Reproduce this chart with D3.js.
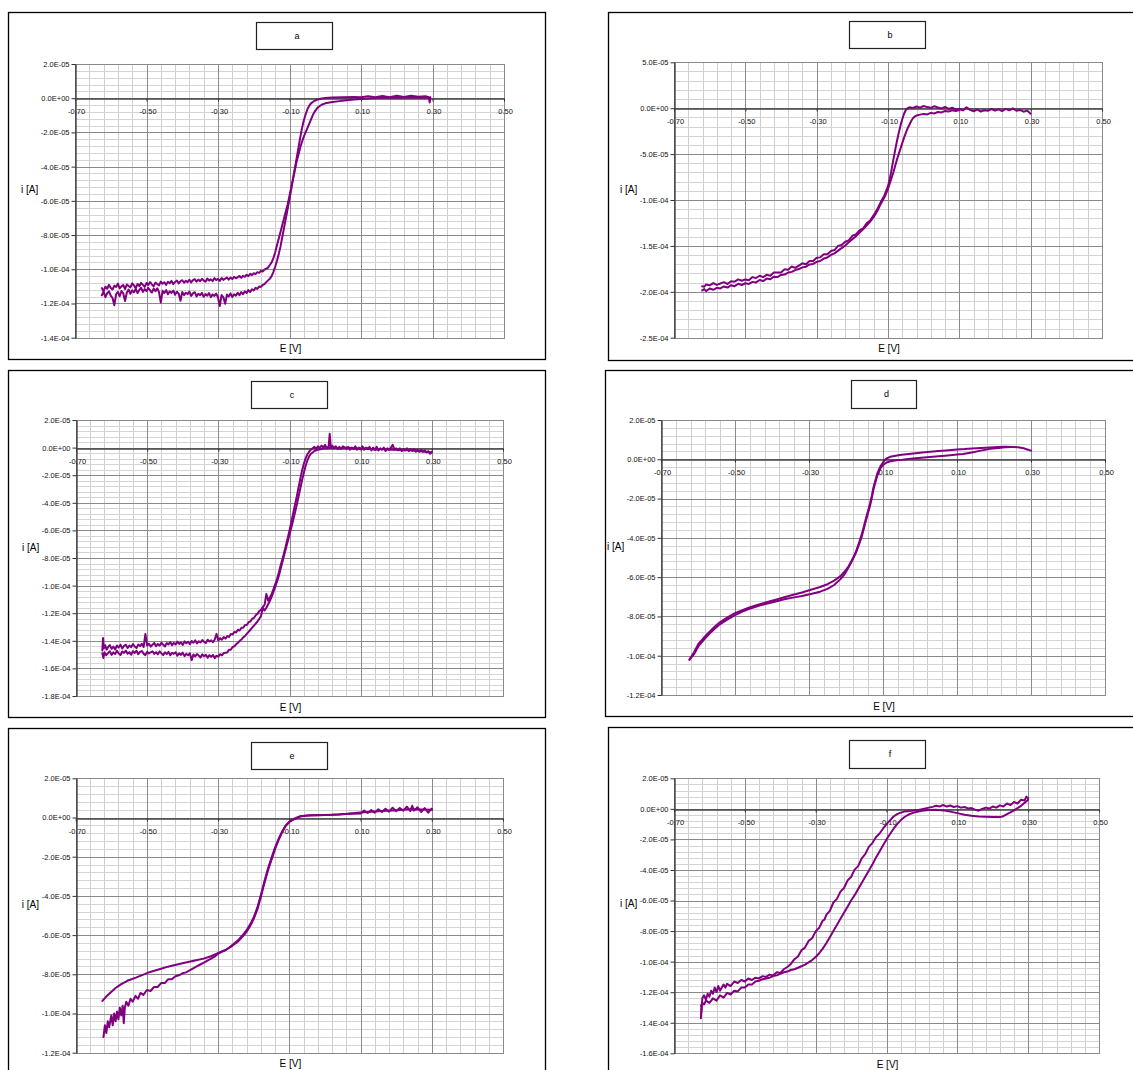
<!DOCTYPE html>
<html><head><meta charset="utf-8">
<script src="https://cdn.jsdelivr.net/npm/d3@7"></script>
<style>body{margin:0;background:#fff} svg{display:block}</style>
</head><body>
<svg id="chart" width="1133" height="1070"></svg>
<script>
// ---------- shared axis data ----------
const xTickValues = [-0.7, -0.5, -0.3, -0.1, 0.1, 0.3, 0.5];
const xTickLabels = ["-0.70", "-0.50", "-0.30", "-0.10", "0.10", "0.30", "0.50"];
const xAxisTitle = "E [V]";
const yAxisTitle = "i [A]";
const panelNames = ["a", "b", "c", "d", "e", "f"];

// y tick values in µA and their labels in A
const yTicksA = [20, 0, -20, -40, -60, -80, -100, -120, -140];
const yLabelsA = ["2.0E-05", "0.0E+00", "-2.0E-05", "-4.0E-05", "-6.0E-05", "-8.0E-05", "-1.0E-04", "-1.2E-04", "-1.4E-04"];
const yTicksB = [50, 0, -50, -100, -150, -200, -250];
const yLabelsB = ["5.0E-05", "0.0E+00", "-5.0E-05", "-1.0E-04", "-1.5E-04", "-2.0E-04", "-2.5E-04"];
const yTicksC = [20, 0, -20, -40, -60, -80, -100, -120, -140, -160, -180];
const yLabelsC = ["2.0E-05", "0.0E+00", "-2.0E-05", "-4.0E-05", "-6.0E-05", "-8.0E-05", "-1.0E-04", "-1.2E-04", "-1.4E-04", "-1.6E-04", "-1.8E-04"];
const yTicksD = [20, 0, -20, -40, -60, -80, -100, -120];
const yLabelsD = ["2.0E-05", "0.0E+00", "-2.0E-05", "-4.0E-05", "-6.0E-05", "-8.0E-05", "-1.0E-04", "-1.2E-04"];
const yTicksE = [20, 0, -20, -40, -60, -80, -100, -120];
const yLabelsE = ["2.0E-05", "0.0E+00", "-2.0E-05", "-4.0E-05", "-6.0E-05", "-8.0E-05", "-1.0E-04", "-1.2E-04"];
const yTicksF = [20, 0, -20, -40, -60, -80, -100, -120, -140, -160];
const yLabelsF = ["2.0E-05", "0.0E+00", "-2.0E-05", "-4.0E-05", "-6.0E-05", "-8.0E-05", "-1.0E-04", "-1.2E-04", "-1.4E-04", "-1.6E-04"];

// ---------- curve data: [E in V, i in µA] ----------
const curveA1 = [[-0.625,-111],[-0.62,-112.8],[-0.615,-110.2],[-0.61,-111.4],[-0.605,-109.1],[-0.6,-110.9],[-0.595,-111.8],[-0.59,-109.6],[-0.585,-110.3],[-0.58,-108.4],[-0.575,-111.2],[-0.57,-110],[-0.565,-109.2],[-0.56,-111.6],[-0.555,-108.9],[-0.55,-109.8],[-0.545,-110.6],[-0.54,-108.2],[-0.535,-109.4],[-0.53,-111],[-0.525,-108.6],[-0.52,-109.9],[-0.515,-107.9],[-0.51,-109.1],[-0.505,-110.3],[-0.5,-108],[-0.495,-109.2],[-0.49,-107.5],[-0.485,-108.8],[-0.48,-110],[-0.475,-107.8],[-0.47,-108.6],[-0.465,-109.4],[-0.46,-107.2],[-0.455,-108.5],[-0.45,-107.6],[-0.445,-109.1],[-0.44,-107.3],[-0.435,-108.2],[-0.43,-106.8],[-0.425,-108.7],[-0.42,-107.4],[-0.415,-106.6],[-0.41,-108.3],[-0.405,-107],[-0.4,-106.4],[-0.395,-107.9],[-0.39,-106.7],[-0.385,-107.5],[-0.38,-106.1],[-0.375,-107.7],[-0.37,-106.3],[-0.365,-105.8],[-0.36,-107.2],[-0.355,-106],[-0.35,-107],[-0.345,-105.6],[-0.34,-106.5],[-0.335,-107.3],[-0.33,-105.4],[-0.325,-106.6],[-0.32,-105.9],[-0.315,-106.9],[-0.31,-105.2],[-0.305,-106.3],[-0.3,-105.6],[-0.295,-106.8],[-0.29,-105.1],[-0.285,-106.2],[-0.28,-105.5],[-0.275,-104.8],[-0.27,-106.1],[-0.265,-104.9],[-0.26,-105.7],[-0.255,-104.4],[-0.25,-105.3],[-0.245,-104.6],[-0.24,-103.9],[-0.235,-105],[-0.23,-103.8],[-0.225,-104.4],[-0.22,-103.2],[-0.215,-104],[-0.21,-102.7],[-0.205,-103.4],[-0.2,-102.3],[-0.195,-102.8],[-0.19,-101.7],[-0.185,-102.1],[-0.18,-100.9],[-0.175,-101.3],[-0.17,-100.2],[-0.165,-99.6],[-0.16,-99],[-0.155,-97.5],[-0.15,-96],[-0.145,-93.5],[-0.14,-90],[-0.135,-86],[-0.13,-82],[-0.125,-78],[-0.12,-74],[-0.115,-70],[-0.11,-66],[-0.105,-62],[-0.1,-57],[-0.095,-52],[-0.09,-47],[-0.085,-42],[-0.08,-37],[-0.075,-33],[-0.07,-29],[-0.065,-25.5],[-0.06,-22.5],[-0.055,-20],[-0.05,-17.5],[-0.045,-15],[-0.04,-12.5],[-0.035,-10],[-0.03,-8],[-0.025,-6.5],[-0.02,-5.2],[-0.01,-3.8],[0,-3],[0.02,-2.2],[0.04,-1.7],[0.06,-1.2],[0.08,-0.8],[0.1,-0.4],[0.12,-0.1],[0.15,0.2],[0.18,0.3],[0.21,0.2],[0.24,0.5],[0.27,0.4],[0.29,0.3]];
const curveA2 = [[-0.625,-115.2],[-0.62,-113.1],[-0.615,-116.3],[-0.61,-114],[-0.605,-112.9],[-0.6,-115.4],[-0.595,-116.8],[-0.59,-121],[-0.585,-114.6],[-0.58,-113.2],[-0.575,-115.8],[-0.57,-112.7],[-0.565,-114.1],[-0.56,-118.5],[-0.555,-113.6],[-0.55,-111.9],[-0.545,-114.4],[-0.54,-112.3],[-0.535,-113.5],[-0.53,-111.4],[-0.525,-113.9],[-0.52,-112.1],[-0.515,-110.8],[-0.51,-113.2],[-0.505,-111.6],[-0.5,-112.7],[-0.495,-110.9],[-0.49,-112.4],[-0.485,-113.6],[-0.48,-111.3],[-0.475,-112.8],[-0.47,-111.1],[-0.465,-113.4],[-0.46,-119.5],[-0.455,-112.6],[-0.45,-113.9],[-0.445,-112.2],[-0.44,-114.6],[-0.435,-112.9],[-0.43,-113.8],[-0.425,-112.4],[-0.42,-114.9],[-0.415,-113.1],[-0.41,-114.2],[-0.405,-118.4],[-0.4,-113.3],[-0.395,-115.1],[-0.39,-113.7],[-0.385,-114.5],[-0.38,-113],[-0.375,-115.6],[-0.37,-114.1],[-0.365,-113.4],[-0.36,-115.9],[-0.355,-114.3],[-0.35,-115.2],[-0.345,-113.8],[-0.34,-116.1],[-0.335,-114.5],[-0.33,-115.4],[-0.325,-113.9],[-0.32,-116.3],[-0.315,-114.7],[-0.31,-115.6],[-0.305,-114.2],[-0.3,-116.5],[-0.295,-121.5],[-0.29,-115.1],[-0.285,-116.4],[-0.28,-120.2],[-0.275,-114.8],[-0.27,-115.9],[-0.265,-114.1],[-0.26,-116.2],[-0.255,-114.6],[-0.25,-115.4],[-0.245,-113.7],[-0.24,-115.2],[-0.235,-113.3],[-0.23,-114.6],[-0.225,-112.9],[-0.22,-113.9],[-0.215,-112.2],[-0.21,-113.3],[-0.205,-111.7],[-0.2,-112.4],[-0.195,-110.8],[-0.19,-111.5],[-0.185,-110.1],[-0.18,-110.3],[-0.175,-109.2],[-0.17,-108.7],[-0.165,-107.5],[-0.16,-106.5],[-0.155,-105.5],[-0.15,-104],[-0.145,-101.5],[-0.14,-98.5],[-0.135,-95],[-0.13,-91],[-0.125,-86.5],[-0.12,-81],[-0.115,-75.5],[-0.11,-70],[-0.105,-64.5],[-0.1,-59],[-0.095,-53],[-0.09,-47],[-0.085,-41],[-0.08,-35],[-0.075,-29],[-0.07,-23],[-0.065,-17.5],[-0.06,-13],[-0.055,-9.5],[-0.05,-6.5],[-0.045,-4.5],[-0.04,-3],[-0.03,-1.5],[-0.02,-0.7],[-0.01,-0.2],[0,0.1],[0.02,0.4],[0.05,0.6],[0.08,0.7],[0.1,0.5],[0.12,1.2],[0.14,0.5],[0.16,1.3],[0.18,0.6],[0.2,1.4],[0.22,0.7],[0.24,1.5],[0.26,0.8],[0.28,1.2],[0.29,0.6],[0.292,-2.5],[0.294,0.5]];

const curveB1 = [[-0.621,-194],[-0.615,-194.5],[-0.61,-192],[-0.6,-193],[-0.59,-190.5],[-0.58,-192.5],[-0.57,-191],[-0.56,-189.5],[-0.55,-191.5],[-0.54,-188.5],[-0.53,-189],[-0.52,-186.5],[-0.51,-188],[-0.5,-186.5],[-0.49,-187.5],[-0.48,-184],[-0.47,-185],[-0.46,-182.5],[-0.45,-184],[-0.44,-181.5],[-0.43,-182.5],[-0.42,-179],[-0.41,-179],[-0.4,-179],[-0.39,-175.5],[-0.38,-176],[-0.37,-172.5],[-0.36,-174],[-0.35,-171.5],[-0.34,-169],[-0.33,-170],[-0.32,-166.5],[-0.31,-166.5],[-0.3,-163],[-0.29,-162.5],[-0.28,-159],[-0.27,-159],[-0.26,-155.5],[-0.25,-154.5],[-0.24,-150],[-0.23,-149],[-0.22,-145.5],[-0.21,-144],[-0.2,-139],[-0.19,-137.5],[-0.18,-133],[-0.17,-131],[-0.16,-125.5],[-0.15,-122.5],[-0.14,-116.5],[-0.13,-110],[-0.12,-102],[-0.11,-95],[-0.1,-85],[-0.095,-77],[-0.09,-67],[-0.085,-56],[-0.08,-46],[-0.075,-36],[-0.07,-27],[-0.065,-19],[-0.06,-12],[-0.055,-6],[-0.05,-2],[-0.045,0],[-0.04,1],[-0.03,0.2],[-0.02,1.8],[-0.01,0.6],[0,2.4],[0.01,1.2],[0.02,0.4],[0.03,2.1],[0.04,0.8],[0.05,-0.3],[0.06,1.4],[0.07,-0.8],[0.08,0.5],[0.09,-1.6],[0.1,-0.6],[0.11,-2.4],[0.12,0.9],[0.13,-1.8],[0.14,-3.3],[0.15,-1.4],[0.16,-3.6],[0.17,-2.2],[0.18,-2.9],[0.19,-0.9],[0.2,-2.7],[0.21,-1.3],[0.22,-3.1],[0.23,-0.7],[0.24,-2.3],[0.25,-0.2],[0.26,-2.8],[0.27,-1.9],[0.28,-3.8],[0.29,-2.6],[0.3,-6]];
const curveB2 = [[-0.621,-198.5],[-0.615,-197],[-0.61,-199.2],[-0.6,-196.4],[-0.59,-197.8],[-0.58,-195.6],[-0.57,-196.3],[-0.56,-194.2],[-0.55,-195.4],[-0.54,-192.8],[-0.53,-193.9],[-0.52,-191.3],[-0.51,-192.6],[-0.5,-190.7],[-0.49,-191.4],[-0.48,-189.2],[-0.47,-189.8],[-0.46,-187.1],[-0.45,-188.3],[-0.44,-185.6],[-0.43,-186.4],[-0.42,-183.5],[-0.41,-183.9],[-0.4,-181.6],[-0.39,-181.2],[-0.38,-179],[-0.37,-178.3],[-0.36,-176.4],[-0.35,-175.2],[-0.34,-173.4],[-0.33,-172.6],[-0.32,-170.2],[-0.31,-169.6],[-0.3,-167.4],[-0.29,-166.5],[-0.28,-163.8],[-0.27,-162.6],[-0.26,-159.8],[-0.25,-158.1],[-0.24,-155.2],[-0.23,-152.4],[-0.22,-149.5],[-0.21,-146],[-0.2,-142.8],[-0.19,-139.4],[-0.18,-135.6],[-0.17,-132],[-0.16,-127.8],[-0.15,-123.6],[-0.14,-118.5],[-0.13,-112],[-0.12,-104],[-0.11,-97],[-0.1,-88],[-0.09,-76],[-0.085,-70],[-0.08,-63],[-0.075,-56],[-0.07,-50],[-0.065,-44],[-0.06,-38],[-0.055,-32],[-0.05,-27],[-0.045,-22],[-0.04,-18],[-0.035,-14],[-0.03,-11],[-0.025,-9],[-0.02,-8],[-0.01,-7],[0,-6.2],[0.01,-6.8],[0.02,-5.1],[0.03,-5.7],[0.04,-4.2],[0.05,-4.6],[0.06,-3.1],[0.07,-3.7],[0.08,-2.2],[0.09,-3],[0.1,-2]];

const curveC1 = [[-0.626,-147],[-0.624,-138],[-0.622,-145.5],[-0.618,-143.2],[-0.614,-146.4],[-0.61,-144.6],[-0.605,-143.1],[-0.6,-145.8],[-0.595,-144.2],[-0.59,-146.3],[-0.585,-143.4],[-0.58,-144.9],[-0.575,-142.8],[-0.57,-145.6],[-0.565,-143.7],[-0.56,-142.9],[-0.555,-145.2],[-0.55,-143.5],[-0.545,-144.6],[-0.54,-142.4],[-0.535,-144.1],[-0.53,-145.3],[-0.525,-142.7],[-0.52,-143.8],[-0.515,-142.2],[-0.51,-144.5],[-0.505,-135],[-0.5,-143.4],[-0.495,-142.1],[-0.49,-144.2],[-0.485,-142.8],[-0.48,-141.6],[-0.475,-143.9],[-0.47,-142.3],[-0.465,-143.5],[-0.46,-141.4],[-0.455,-142.9],[-0.45,-144.1],[-0.445,-141.7],[-0.44,-142.6],[-0.435,-140.9],[-0.43,-143.2],[-0.425,-141.5],[-0.42,-142.7],[-0.415,-140.6],[-0.41,-142.3],[-0.405,-141.1],[-0.4,-143],[-0.395,-140.4],[-0.39,-141.8],[-0.385,-140.7],[-0.38,-142.5],[-0.375,-140.1],[-0.37,-141.4],[-0.365,-139.6],[-0.36,-141.9],[-0.355,-140.3],[-0.35,-141.2],[-0.345,-139.4],[-0.34,-140.8],[-0.335,-141.6],[-0.33,-139.2],[-0.325,-140.5],[-0.32,-139.7],[-0.315,-141],[-0.31,-139],[-0.305,-135],[-0.3,-139.8],[-0.295,-138.1],[-0.29,-139.2],[-0.285,-137.3],[-0.28,-138.4],[-0.275,-136.6],[-0.27,-137.2],[-0.265,-135],[-0.26,-135.5],[-0.255,-133.5],[-0.25,-134],[-0.245,-132],[-0.24,-132.5],[-0.235,-130.5],[-0.23,-130.5],[-0.225,-128.5],[-0.22,-128.5],[-0.215,-126.5],[-0.21,-126],[-0.205,-124],[-0.2,-123.5],[-0.195,-121.5],[-0.19,-120.5],[-0.185,-118.5],[-0.18,-117.5],[-0.175,-115.5],[-0.17,-114],[-0.165,-106],[-0.16,-111],[-0.155,-108.5],[-0.15,-106],[-0.145,-102.5],[-0.14,-99],[-0.135,-95],[-0.13,-90.5],[-0.125,-85.5],[-0.12,-81],[-0.115,-76],[-0.11,-71],[-0.105,-65.5],[-0.1,-60],[-0.095,-54],[-0.09,-48],[-0.085,-42],[-0.08,-36],[-0.075,-29.5],[-0.07,-23],[-0.065,-17],[-0.06,-12],[-0.055,-8],[-0.05,-5],[-0.045,-3],[-0.04,-1.5],[-0.035,-0.5],[-0.03,0.5],[-0.025,-1],[-0.02,1],[-0.015,-0.5],[-0.01,1.5],[-0.005,0],[0,2],[0.005,-0.5],[0.01,1],[0.013,10],[0.016,0],[0.02,1.5],[0.025,-0.5],[0.03,1],[0.035,-1],[0.04,0.5],[0.045,-1],[0.05,1],[0.06,-1],[0.065,0.5],[0.07,-1.5],[0.075,0],[0.08,-1],[0.085,1],[0.09,-1.5],[0.095,0],[0.1,-1],[0.105,1],[0.11,-1.5],[0.115,0],[0.12,-1],[0.125,0.5],[0.13,-2],[0.135,0],[0.14,-1.5],[0.145,0.5],[0.15,-2],[0.155,-0.5],[0.16,-1.5],[0.165,0],[0.17,-2.5],[0.175,-0.5],[0.18,-1.5],[0.185,0],[0.19,2],[0.195,-1.5],[0.2,-0.5],[0.205,-2],[0.21,-0.5],[0.215,-2.5],[0.22,-1],[0.225,-2],[0.23,-0.5],[0.235,-2.5],[0.24,-1],[0.245,-2.5],[0.25,-1],[0.255,-3],[0.26,-1.5],[0.265,-3],[0.27,-1.5],[0.275,-3],[0.28,-2],[0.285,-3.5],[0.29,-2.5],[0.295,-4.5],[0.3,-3]];
const curveC2 = [[-0.626,-149],[-0.623,-152.5],[-0.62,-148.3],[-0.615,-150.4],[-0.61,-148.9],[-0.605,-147.6],[-0.6,-150.2],[-0.595,-148.4],[-0.59,-149.6],[-0.585,-147.3],[-0.58,-149.1],[-0.575,-150.3],[-0.57,-147.8],[-0.565,-148.7],[-0.56,-147.1],[-0.555,-149.4],[-0.55,-148.2],[-0.545,-150.1],[-0.54,-147.5],[-0.535,-148.8],[-0.53,-147.2],[-0.525,-149.7],[-0.52,-148.1],[-0.515,-147.4],[-0.51,-149.3],[-0.505,-150.4],[-0.5,-147.9],[-0.495,-149.2],[-0.49,-148.3],[-0.485,-147.6],[-0.48,-149.5],[-0.475,-148.2],[-0.47,-149.8],[-0.465,-147.7],[-0.46,-149.1],[-0.455,-150.3],[-0.45,-148.4],[-0.445,-149.6],[-0.44,-148],[-0.435,-150.5],[-0.43,-148.7],[-0.425,-149.4],[-0.42,-148.3],[-0.415,-150.8],[-0.41,-149.1],[-0.405,-150.2],[-0.4,-148.6],[-0.395,-151.1],[-0.39,-149.4],[-0.385,-150.5],[-0.38,-149],[-0.375,-154],[-0.37,-149.9],[-0.365,-151.3],[-0.36,-149.6],[-0.355,-150.7],[-0.35,-152.1],[-0.345,-149.8],[-0.34,-151.2],[-0.335,-150.1],[-0.33,-152.3],[-0.325,-150.4],[-0.32,-151.6],[-0.315,-150.2],[-0.31,-152.6],[-0.305,-150.8],[-0.3,-151.4],[-0.295,-149.7],[-0.29,-150.5],[-0.285,-148.9],[-0.28,-148.6],[-0.275,-148.5],[-0.27,-146.5],[-0.265,-146.5],[-0.26,-144.5],[-0.255,-144],[-0.25,-142.5],[-0.245,-141.5],[-0.24,-140],[-0.235,-139],[-0.23,-137.5],[-0.225,-136.5],[-0.22,-135],[-0.215,-133.5],[-0.21,-132],[-0.205,-130.5],[-0.2,-129],[-0.195,-127.5],[-0.19,-126],[-0.185,-124],[-0.18,-122],[-0.175,-116],[-0.17,-118],[-0.165,-116],[-0.16,-113.5],[-0.155,-111],[-0.15,-108],[-0.145,-104.5],[-0.14,-101],[-0.135,-97],[-0.13,-93],[-0.125,-88],[-0.12,-83],[-0.115,-78],[-0.11,-73],[-0.105,-68],[-0.1,-63],[-0.095,-58],[-0.09,-53],[-0.085,-47.5],[-0.08,-42],[-0.075,-36],[-0.07,-30],[-0.065,-24],[-0.06,-18.5],[-0.055,-13.5],[-0.05,-9.5],[-0.045,-6.5],[-0.04,-4.5],[-0.035,-3.5],[-0.03,-2.5],[-0.02,-1.5],[-0.01,-1],[0,-0.5],[0.02,0],[0.04,-0.5],[0.06,0],[0.08,-0.5],[0.1,-1],[0.12,-0.5],[0.14,-1.5],[0.16,-1],[0.18,-1.5],[0.2,-1.5],[0.22,-2],[0.24,-2],[0.26,-2.5],[0.28,-3],[0.3,-3.5]];

const curveD1 = [[-0.623,-102],[-0.61,-98],[-0.599,-94],[-0.585,-91],[-0.57,-88],[-0.555,-85.3],[-0.541,-83],[-0.52,-80.5],[-0.5,-78.3],[-0.48,-76.8],[-0.463,-75.6],[-0.44,-74.2],[-0.415,-72.8],[-0.39,-71.5],[-0.367,-70.2],[-0.34,-68.8],[-0.319,-67.8],[-0.295,-66.4],[-0.27,-65],[-0.25,-63.6],[-0.232,-61.8],[-0.215,-59.5],[-0.203,-57],[-0.193,-54.5],[-0.183,-51],[-0.173,-47],[-0.164,-42],[-0.157,-38],[-0.15,-33],[-0.143,-28],[-0.135,-22.5],[-0.13,-18.5],[-0.126,-14.5],[-0.121,-11],[-0.116,-7.7],[-0.111,-5.3],[-0.106,-3.3],[-0.1,-1.6],[-0.095,-0.3],[-0.09,0.5],[-0.08,1.3],[-0.07,1.7],[-0.05,2.3],[-0.03,2.7],[0,3.3],[0.02,3.7],[0.05,4.2],[0.07,4.5],[0.1,5],[0.12,5.2],[0.14,5.5],[0.165,5.7],[0.19,6],[0.21,6.2],[0.23,6.4],[0.25,6.3],[0.265,6.1],[0.28,5.6],[0.29,5],[0.3,4.4]];
const curveD2 = [[-0.623,-102],[-0.61,-99],[-0.599,-95.2],[-0.585,-92],[-0.57,-89],[-0.555,-86.3],[-0.541,-84],[-0.52,-81.5],[-0.5,-79.3],[-0.48,-77.5],[-0.463,-76.3],[-0.44,-74.8],[-0.415,-73.5],[-0.39,-72.4],[-0.367,-71.3],[-0.34,-70.3],[-0.319,-69.6],[-0.295,-68.6],[-0.27,-67.4],[-0.25,-66],[-0.232,-64],[-0.215,-61],[-0.203,-58.3],[-0.193,-55],[-0.183,-51.5],[-0.173,-47.5],[-0.164,-43],[-0.157,-39],[-0.15,-34],[-0.143,-29],[-0.135,-23.7],[-0.13,-19.5],[-0.126,-15.5],[-0.121,-12],[-0.116,-8.6],[-0.111,-6.3],[-0.106,-4.4],[-0.1,-3],[-0.095,-2.2],[-0.09,-1.6],[-0.08,-1],[-0.06,-0.4],[-0.048,-0.2],[-0.02,0.4],[0.019,1],[0.05,1.5],[0.068,1.8],[0.1,2.4],[0.116,2.7],[0.14,3.5],[0.164,4.4],[0.19,5.3],[0.212,5.8],[0.23,6.1],[0.25,6.2]];

const curveE1 = [[-0.625,-93.6],[-0.615,-91.5],[-0.602,-89.3],[-0.588,-87],[-0.572,-85],[-0.555,-83.3],[-0.531,-81.7],[-0.51,-80.2],[-0.491,-78.8],[-0.465,-77.4],[-0.441,-76.1],[-0.415,-75],[-0.391,-74],[-0.365,-73],[-0.341,-72],[-0.32,-70.8],[-0.301,-69.2],[-0.28,-67.6],[-0.261,-65.6],[-0.245,-63.4],[-0.23,-60.5],[-0.22,-58.3],[-0.21,-55.4],[-0.2,-51.7],[-0.19,-47],[-0.18,-40.5],[-0.17,-33.4],[-0.16,-27],[-0.15,-21.5],[-0.14,-16],[-0.13,-11.4],[-0.12,-7.5],[-0.11,-4.2],[-0.1,-2.3],[-0.09,-1.2],[-0.08,-0.3],[-0.07,0.5],[-0.055,0.9],[-0.04,1.1],[0,1.3],[0.04,1.5],[0.07,2],[0.1,2.5],[0.13,2.9],[0.16,3.3],[0.19,3.6],[0.22,3.9],[0.241,4.2],[0.27,4.1],[0.301,3.9]];
const curveE2 = [[-0.622,-112],[-0.618,-106],[-0.614,-110],[-0.61,-104],[-0.606,-107],[-0.6,-101],[-0.596,-106],[-0.592,-100],[-0.588,-104],[-0.584,-99],[-0.58,-103],[-0.576,-97],[-0.572,-101],[-0.568,-96],[-0.565,-105],[-0.562,-97],[-0.558,-94],[-0.552,-96],[-0.546,-92.5],[-0.54,-94],[-0.532,-91],[-0.525,-92.5],[-0.518,-89.5],[-0.51,-90.5],[-0.5,-88],[-0.49,-88.5],[-0.48,-86.5],[-0.47,-86.5],[-0.46,-84.5],[-0.45,-84.5],[-0.44,-82.5],[-0.43,-82.5],[-0.42,-81],[-0.41,-80.5],[-0.4,-79.5],[-0.39,-79],[-0.38,-78],[-0.37,-77],[-0.36,-76],[-0.35,-75],[-0.34,-74],[-0.33,-73],[-0.32,-72],[-0.31,-71],[-0.3,-69.5],[-0.29,-68.5],[-0.28,-67.8],[-0.27,-66.6],[-0.261,-65.2],[-0.245,-62.8],[-0.23,-59.8],[-0.22,-57.5],[-0.21,-54.5],[-0.2,-50.8],[-0.19,-46],[-0.18,-39.5],[-0.17,-32.5],[-0.16,-26],[-0.15,-20.5],[-0.14,-15.2],[-0.13,-10.8],[-0.12,-7],[-0.11,-4],[-0.1,-2.1],[-0.09,-1],[-0.08,-0.1],[-0.07,0.6],[-0.05,1],[-0.02,1.2],[0.02,1.4],[0.06,1.8],[0.1,2],[0.11,3.5],[0.12,2.3],[0.13,3.8],[0.14,2.5],[0.15,4.2],[0.16,2.8],[0.17,4.5],[0.18,3],[0.19,5],[0.2,3.2],[0.21,4.8],[0.22,3.5],[0.23,5.5],[0.24,3.3],[0.245,6],[0.25,3.5],[0.26,5.2],[0.27,2.8],[0.28,4.8],[0.29,2.5],[0.3,4.5]];

const curveF1 = [[-0.624,-137],[-0.623,-130],[-0.622,-133],[-0.62,-124],[-0.615,-122],[-0.61,-125],[-0.605,-121],[-0.6,-123],[-0.595,-119],[-0.59,-121],[-0.585,-117],[-0.58,-120],[-0.575,-116],[-0.57,-119],[-0.565,-117],[-0.56,-115],[-0.555,-117],[-0.55,-114.5],[-0.54,-116],[-0.53,-113],[-0.52,-114],[-0.51,-112],[-0.5,-113],[-0.49,-111],[-0.48,-112],[-0.47,-110.5],[-0.46,-111],[-0.45,-109.5],[-0.44,-110],[-0.43,-108.5],[-0.42,-109],[-0.41,-107],[-0.4,-107.5],[-0.39,-105],[-0.38,-103.5],[-0.37,-101.5],[-0.36,-98.4],[-0.35,-96.6],[-0.34,-92.5],[-0.33,-90.8],[-0.32,-86.4],[-0.31,-84.7],[-0.3,-80.2],[-0.29,-77.8],[-0.28,-73.1],[-0.275,-72.5],[-0.27,-69.4],[-0.26,-66.8],[-0.25,-61.3],[-0.24,-58.9],[-0.23,-54.2],[-0.22,-51.8],[-0.21,-46.9],[-0.2,-44.6],[-0.19,-39.8],[-0.18,-37.5],[-0.17,-32.4],[-0.16,-29.6],[-0.15,-24.9],[-0.14,-22.4],[-0.13,-18.6],[-0.12,-16.3],[-0.11,-13],[-0.1,-10],[-0.09,-7.5],[-0.08,-5],[-0.07,-3.5],[-0.06,-2.5],[-0.05,-1.8],[-0.04,-1.5],[-0.03,-1.2],[-0.02,-1],[-0.01,-0.7],[0,-0.3],[0.01,0.3],[0.02,0.8],[0.03,1.3],[0.04,2],[0.05,1.5],[0.06,2.5],[0.07,1.5],[0.08,2.2],[0.09,1.2],[0.1,1.8],[0.11,0.8],[0.12,1.2],[0.13,0.3],[0.14,0.5],[0.15,-0.5],[0.16,-1.2],[0.17,0],[0.18,0.8],[0.19,0.2],[0.2,1.5],[0.21,0.8],[0.22,2.3],[0.23,1.5],[0.24,3.5],[0.25,2.5],[0.26,4.5],[0.27,3.5],[0.28,6],[0.29,5.5],[0.295,8],[0.3,7]];
const curveF2 = [[-0.624,-129],[-0.62,-127],[-0.615,-128],[-0.61,-125.5],[-0.6,-127],[-0.59,-124],[-0.58,-125.5],[-0.57,-122],[-0.56,-123.5],[-0.55,-120.5],[-0.54,-121.5],[-0.53,-119],[-0.52,-119.5],[-0.51,-117],[-0.5,-117],[-0.49,-115],[-0.48,-115],[-0.47,-113],[-0.46,-112.5],[-0.45,-111.5],[-0.44,-111],[-0.43,-110.5],[-0.42,-109.5],[-0.41,-109],[-0.4,-108],[-0.39,-107],[-0.38,-106.5],[-0.37,-105.5],[-0.36,-105],[-0.35,-104],[-0.34,-103],[-0.33,-102],[-0.32,-100.5],[-0.31,-99],[-0.3,-97],[-0.29,-94.5],[-0.28,-91.5],[-0.27,-88],[-0.26,-84],[-0.25,-80],[-0.24,-76],[-0.23,-72],[-0.22,-68],[-0.21,-64],[-0.2,-60],[-0.19,-56.5],[-0.18,-52.5],[-0.17,-48.5],[-0.16,-44.5],[-0.15,-40.5],[-0.14,-36.5],[-0.13,-32],[-0.12,-28],[-0.11,-24],[-0.1,-20],[-0.09,-16.5],[-0.08,-13],[-0.07,-10],[-0.06,-7.5],[-0.05,-5.5],[-0.04,-4],[-0.03,-3],[-0.02,-2.3],[-0.01,-1.7],[0,-1.3],[0.02,-0.8],[0.04,-0.6],[0.06,-1],[0.08,-1.8],[0.1,-2.8],[0.12,-3.8],[0.14,-4.5],[0.16,-5],[0.18,-5.2],[0.2,-5.4],[0.22,-5.4],[0.23,-4.8],[0.24,-3.5],[0.25,-2.3],[0.26,-1],[0.27,0.5],[0.28,2],[0.29,4],[0.3,6]];

// ---------- layout (positions in px) ----------
const panels = [
  {name: panelNames[0], box: [8, 12, 545, 359], title: [256, 22, 332, 49], plot: [75, 64, 504, 337.7], yDomain: [20, -140], minor: 4, yTicks: yTicksA, yLabels: yLabelsA, curves: [curveA1, curveA2]},
  {name: panelNames[1], box: [608, 12, 1140, 360], title: [849, 21, 925, 48], plot: [674, 62.3, 1102, 337.7], yDomain: [50, -250], minor: 10, yTicks: yTicksB, yLabels: yLabelsB, curves: [curveB1, curveB2]},
  {name: panelNames[2], box: [8, 370, 545, 717], title: [251, 381, 327, 408], plot: [76, 420, 503, 696], yDomain: [20, -180], minor: 4, yTicks: yTicksC, yLabels: yLabelsC, curves: [curveC1, curveC2]},
  {name: panelNames[3], box: [605, 370, 1140, 716], title: [851, 380, 916, 408], plot: [661, 420, 1105, 695], yDomain: [20, -120], minor: 4, yTicks: yTicksD, yLabels: yLabelsD, curves: [curveD1, curveD2]},
  {name: panelNames[4], box: [8, 728, 545, 1073], title: [251, 742, 327, 769], plot: [75.7, 778.3, 503, 1052.7], yDomain: [20, -120], minor: 4, yTicks: yTicksE, yLabels: yLabelsE, curves: [curveE1, curveE2]},
  {name: panelNames[5], box: [608, 727, 1140, 1073], title: [849, 740, 925, 768], plot: [674, 778.3, 1099, 1053.3], yDomain: [20, -160], minor: 4, yTicks: yTicksF, yLabels: yLabelsF, curves: [curveF1, curveF2]}
];

const FONT = "'Liberation Sans', Arial, Helvetica, sans-serif";
const PURPLE = "#800080";
const svg = d3.select("#chart").style("font-family", FONT);
svg.append("rect").attr("width", 1133).attr("height", 1070).attr("fill", "#fff");

panels.forEach(p => {
  const g = svg.append("g");
  const [bx0, by0, bx1, by1] = p.box;
  g.append("rect").attr("x", bx0 + 0.5).attr("y", by0 + 0.5)
    .attr("width", bx1 - bx0).attr("height", by1 - by0)
    .attr("fill", "#fff").attr("stroke", "#000").attr("stroke-width", 1.3);

  const [tx0, ty0, tx1, ty1] = p.title;
  g.append("rect").attr("x", tx0 + 0.5).attr("y", ty0 + 0.5)
    .attr("width", tx1 - tx0).attr("height", ty1 - ty0)
    .attr("fill", "#fff").attr("stroke", "#222").attr("stroke-width", 1.2);
  g.append("text").attr("x", (tx0 + tx1) / 2 + 3).attr("y", (ty0 + ty1) / 2)
    .attr("dy", "0.35em").attr("text-anchor", "middle")
    .style("font-size", "9px").attr("fill", "#000").text(p.name);

  const [px0, py0, px1, py1] = p.plot;
  const x = d3.scaleLinear().domain([xTickValues[0], xTickValues[xTickValues.length - 1]]).range([px0, px1]);
  const y = d3.scaleLinear().domain(p.yDomain).range([py0, py1]);
  const snap = v => Math.round(v) + 0.5;

  // minor grid
  const xSpan = xTickValues[xTickValues.length - 1] - xTickValues[0];
  const minorXStep = 0.04;
  const minorX = d3.range(Math.round(xSpan / minorXStep) + 1).map(k => xTickValues[0] + k * minorXStep);
  const yHi = p.yDomain[0], yLo = p.yDomain[1];
  const minorY = d3.range(Math.round((yHi - yLo) / p.minor) + 1).map(k => yLo + k * p.minor);
  const grid = g.append("g").attr("shape-rendering", "crispEdges");
  grid.selectAll("line.mx").data(minorX).join("line").attr("class", "mx")
    .attr("x1", d => snap(x(d))).attr("x2", d => snap(x(d))).attr("y1", py0).attr("y2", py1)
    .attr("stroke", "#cfcfcf").attr("stroke-width", 1);
  grid.selectAll("line.my").data(minorY).join("line").attr("class", "my")
    .attr("y1", d => snap(y(d))).attr("y2", d => snap(y(d))).attr("x1", px0).attr("x2", px1)
    .attr("stroke", "#d4d4d4").attr("stroke-width", 1);
  // major grid
  grid.selectAll("line.Mx").data(xTickValues).join("line").attr("class", "Mx")
    .attr("x1", d => snap(x(d))).attr("x2", d => snap(x(d))).attr("y1", py0).attr("y2", py1)
    .attr("stroke", "#8a8a8a").attr("stroke-width", 1);
  grid.selectAll("line.My").data(p.yTicks).join("line").attr("class", "My")
    .attr("y1", d => snap(y(d))).attr("y2", d => snap(y(d))).attr("x1", px0).attr("x2", px1)
    .attr("stroke", "#8a8a8a").attr("stroke-width", 1);
  grid.append("rect").attr("x", snap(px0)).attr("y", snap(py0))
    .attr("width", Math.round(px1) - Math.round(px0)).attr("height", Math.round(py1) - Math.round(py0))
    .attr("fill", "none").attr("stroke", "#8a8a8a");

  // y axis
  const yAxis = d3.axisLeft(y).tickValues(p.yTicks).tickFormat((d, i) => p.yLabels[i])
    .tickSize(4).tickSizeOuter(0).tickPadding(2);
  const ya = g.append("g").attr("transform", `translate(${snap(px0)},0)`).call(yAxis);
  ya.select(".domain").attr("stroke", "#333").attr("stroke-width", 1.3);
  ya.selectAll(".tick line").attr("stroke", "#333");
  ya.selectAll("text").style("font-size", "7.5px").style("font-family", FONT).attr("fill", "#111");

  // x axis along i = 0
  const xAxis = d3.axisBottom(x).tickValues(xTickValues).tickFormat((d, i) => xTickLabels[i])
    .tickSize(3).tickSizeOuter(0);
  const xa = g.append("g").attr("transform", `translate(0,${snap(y(0))})`).call(xAxis);
  xa.select(".domain").attr("stroke", "#444").attr("stroke-width", 1.6);
  xa.selectAll(".tick line").attr("stroke", "#333");
  xa.selectAll("text").attr("y", 15).attr("dy", null).attr("dx", 1)
    .style("font-size", "7.5px").style("font-family", FONT).attr("fill", "#111");

  // axis titles
  g.append("text").attr("x", px0 - 54).attr("y", (by0 + by1) / 2 + 3.5).attr("dy", "0.35em")
    .style("font-size", "10px").attr("fill", "#000").text(yAxisTitle);
  g.append("text").attr("x", (px0 + px1) / 2 + 1).attr("y", py1 + 11).attr("dy", "0.35em")
    .attr("text-anchor", "middle").style("font-size", "10px").attr("fill", "#000").text(xAxisTitle);

  // curves
  const line = d3.line().x(d => x(d[0])).y(d => y(d[1]));
  g.append("g").selectAll("path").data(p.curves).join("path")
    .attr("d", line).attr("fill", "none").attr("stroke", PURPLE)
    .attr("stroke-width", 2).attr("stroke-linejoin", "round").attr("stroke-linecap", "round");
});
</script>
</body></html>
